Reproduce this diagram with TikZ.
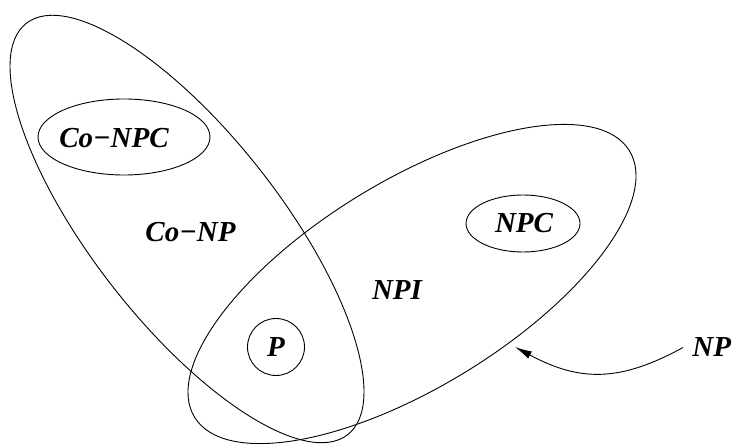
\documentclass[tikz,border=0pt]{standalone}
\usepackage{fontspec}
\setmainfont{Liberation Serif}
\usepackage{tikz}
\usetikzlibrary{arrows.meta}

\begin{document}
\begin{tikzpicture}[x=1pt,y=1pt,>={Latex[length=17pt,width=8pt]},line width=0.9pt,
  every node/.style={font=\fontsize{29}{32}\selectfont\bfseries\itshape,inner sep=0pt}]
  \useasboundingbox (0,0) rectangle (733,444);
  % Co-NP and NP
  \draw (187,215) ellipse[x radius=261,y radius=94,rotate=-52];
  \draw (412,160) ellipse[x radius=255,y radius=103,rotate=31.5];
  % inner classes
  \draw (124,307) ellipse (86 and 38);
  \draw (523,220.5) ellipse (57 and 28.5);
  \draw (276,97) circle (28.5);
  \node (conpc) at (114,306) {Co−NPC};
  \node (npc) at (524,221) {NPC};
  \node (p) at (276,97) {P};
  \node (conp) at (190.5,211.5) {Co−NP};
  \node (npi) at (397,154) {NPI};
  \node[anchor=west,inner xsep=9pt] (np) at (683,96.5) {NP};
  \coordinate (tip) at (515,97);
  \draw[->] (np.west) .. controls (620,62) and (580,62) .. (tip);
\end{tikzpicture}
\end{document}
